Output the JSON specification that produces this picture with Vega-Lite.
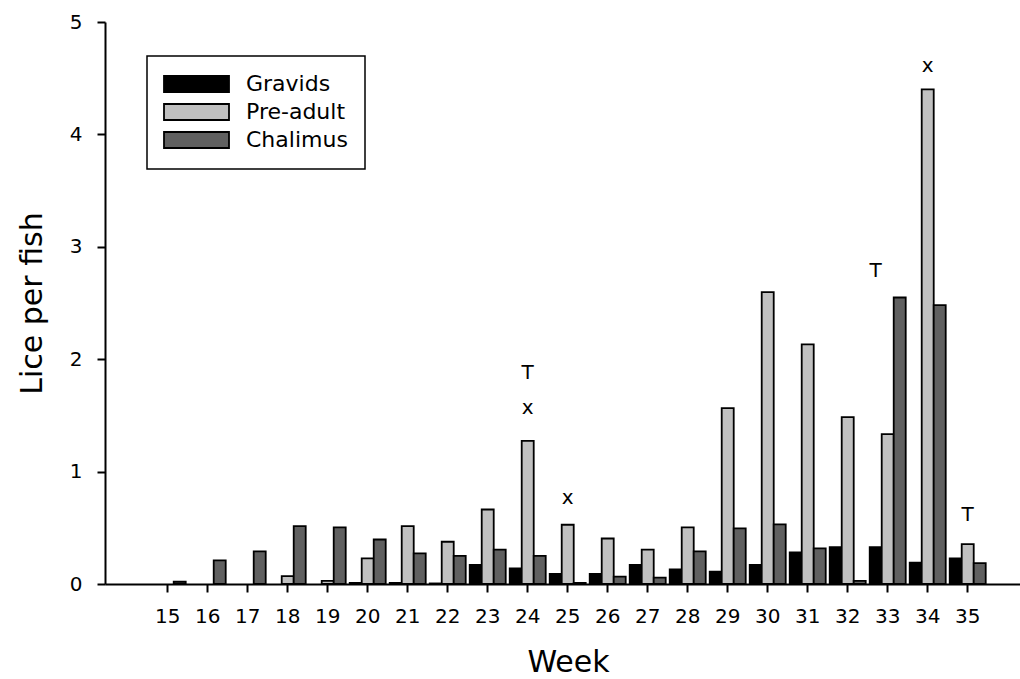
{
  "$schema": "https://vega.github.io/schema/vega-lite/v6.json",
  "width": 915,
  "height": 562,
  "autosize": {"type": "none"},
  "padding": {"left": 105, "top": 22, "right": 0, "bottom": 95},
  "background": "white",
  "config": {
    "view": {"stroke": null},
    "font": "DejaVu Sans",
    "axis": {
      "domainColor": "black", "tickColor": "black", "labelColor": "black", "titleColor": "black",
      "domainWidth": 2, "tickWidth": 2, "grid": false, "labelFont": "DejaVu Sans", "titleFont": "DejaVu Sans",
      "titleFontWeight": "normal", "labelFontSize": 20, "titleFontSize": 30, "tickSize": 8
    }
  },
  "layer": [
    {
      "data": {"values": [
        {"week": 15, "stage": "Chalimus", "value": 0.02},
        {"week": 16, "stage": "Chalimus", "value": 0.21},
        {"week": 17, "stage": "Chalimus", "value": 0.29},
        {"week": 18, "stage": "Pre-adult", "value": 0.07},
        {"week": 18, "stage": "Chalimus", "value": 0.515},
        {"week": 19, "stage": "Pre-adult", "value": 0.027},
        {"week": 19, "stage": "Chalimus", "value": 0.503},
        {"week": 20, "stage": "Gravids", "value": 0.01},
        {"week": 20, "stage": "Pre-adult", "value": 0.228},
        {"week": 20, "stage": "Chalimus", "value": 0.396},
        {"week": 21, "stage": "Gravids", "value": 0.01},
        {"week": 21, "stage": "Pre-adult", "value": 0.515},
        {"week": 21, "stage": "Chalimus", "value": 0.272},
        {"week": 22, "stage": "Gravids", "value": 0.005},
        {"week": 22, "stage": "Pre-adult", "value": 0.376},
        {"week": 22, "stage": "Chalimus", "value": 0.251},
        {"week": 23, "stage": "Gravids", "value": 0.169},
        {"week": 23, "stage": "Pre-adult", "value": 0.663},
        {"week": 23, "stage": "Chalimus", "value": 0.305},
        {"week": 24, "stage": "Gravids", "value": 0.139},
        {"week": 24, "stage": "Pre-adult", "value": 1.274},
        {"week": 24, "stage": "Chalimus", "value": 0.251},
        {"week": 25, "stage": "Gravids", "value": 0.089},
        {"week": 25, "stage": "Pre-adult", "value": 0.527},
        {"week": 25, "stage": "Chalimus", "value": 0.01},
        {"week": 26, "stage": "Gravids", "value": 0.089},
        {"week": 26, "stage": "Pre-adult", "value": 0.405},
        {"week": 26, "stage": "Chalimus", "value": 0.065},
        {"week": 27, "stage": "Gravids", "value": 0.169},
        {"week": 27, "stage": "Pre-adult", "value": 0.305},
        {"week": 27, "stage": "Chalimus", "value": 0.056},
        {"week": 28, "stage": "Gravids", "value": 0.13},
        {"week": 28, "stage": "Pre-adult", "value": 0.503},
        {"week": 28, "stage": "Chalimus", "value": 0.29},
        {"week": 29, "stage": "Gravids", "value": 0.109},
        {"week": 29, "stage": "Pre-adult", "value": 1.564},
        {"week": 29, "stage": "Chalimus", "value": 0.494},
        {"week": 30, "stage": "Gravids", "value": 0.169},
        {"week": 30, "stage": "Pre-adult", "value": 2.596},
        {"week": 30, "stage": "Chalimus", "value": 0.53},
        {"week": 31, "stage": "Gravids", "value": 0.281},
        {"week": 31, "stage": "Pre-adult", "value": 2.132},
        {"week": 31, "stage": "Chalimus", "value": 0.317},
        {"week": 32, "stage": "Gravids", "value": 0.328},
        {"week": 32, "stage": "Pre-adult", "value": 1.484},
        {"week": 32, "stage": "Chalimus", "value": 0.027},
        {"week": 33, "stage": "Gravids", "value": 0.328},
        {"week": 33, "stage": "Pre-adult", "value": 1.334},
        {"week": 33, "stage": "Chalimus", "value": 2.549},
        {"week": 34, "stage": "Gravids", "value": 0.189},
        {"week": 34, "stage": "Pre-adult", "value": 4.4},
        {"week": 34, "stage": "Chalimus", "value": 2.481},
        {"week": 35, "stage": "Gravids", "value": 0.228},
        {"week": 35, "stage": "Pre-adult", "value": 0.355},
        {"week": 35, "stage": "Chalimus", "value": 0.186}
      ]},
      "mark": {"type": "bar", "stroke": "black", "strokeWidth": 1.8},
      "encoding": {
        "x": {
          "field": "week", "type": "ordinal",
          "scale": {"domain": [15,16,17,18,19,20,21,22,23,24,25,26,27,28,29,30,31,32,33,34,35], "paddingInner": 0.1, "paddingOuter": 0.9875, "align": 0.566, "round": false},
          "axis": {"title": "Week", "labelAngle": 0, "labelPadding": 14, "labelFontSize": 20, "titleFontSize": 30, "titleX": 463, "titleY": 87, "titleAlign": "center", "titleBaseline": "alphabetic"}
        },
        "xOffset": {
          "field": "stage", "type": "nominal",
          "scale": {"domain": ["Gravids", "Pre-adult", "Chalimus"], "paddingInner": 0, "paddingOuter": 0}
        },
        "y": {
          "field": "value", "type": "quantitative",
          "scale": {"domain": [0, 5], "nice": false},
          "axis": {"title": "Lice per fish", "values": [0,1,2,3,4,5], "format": "d", "labelPadding": 15, "labelFontSize": 20, "titleFontSize": 30, "titleX": -73, "titleY": 281, "titleAlign": "center", "titleBaseline": "middle", "titleAngle": 270}
        },
        "color": {
          "field": "stage", "type": "nominal",
          "scale": {"domain": ["Gravids", "Pre-adult", "Chalimus"], "range": ["#000000", "#c0c0c0", "#606060"]},
          "legend": {
            "title": null, "orient": "none", "legendX": 42, "legendY": 34,
            "symbolType": "M-1.375,-1H6.75V1H-1.375Z", "symbolSize": 256,
            "symbolStrokeColor": "black", "symbolStrokeWidth": 1.8, "symbolOpacity": 1,
            "labelFontSize": 22, "labelFont": "DejaVu Sans", "labelColor": "black", "labelOffset": 60,
            "rowPadding": 4, "padding": 17, "strokeColor": "black", "fillColor": "white",
            "encode": {"legend": {"update": {"strokeWidth": {"value": 1.5}}}}
          }
        }
      }
    },
    {
      "data": {"values": [
        {"week": 24, "stage": "Pre-adult", "value": 1.88, "label": "T"},
        {"week": 24, "stage": "Pre-adult", "value": 1.566, "label": "x"},
        {"week": 25, "stage": "Pre-adult", "value": 0.765, "label": "x"},
        {"week": 33, "stage": "Gravids", "value": 2.787, "label": "T"},
        {"week": 34, "stage": "Pre-adult", "value": 4.61, "label": "x"},
        {"week": 35, "stage": "Pre-adult", "value": 0.614, "label": "T"}
      ]},
      "mark": {"type": "text", "fontSize": 20, "baseline": "middle", "align": "center", "color": "black", "font": "DejaVu Sans"},
      "encoding": {
        "x": {"field": "week", "type": "ordinal"},
        "xOffset": {"field": "stage", "type": "nominal"},
        "y": {"field": "value", "type": "quantitative"},
        "text": {"field": "label"}
      }
    }
  ]
}
